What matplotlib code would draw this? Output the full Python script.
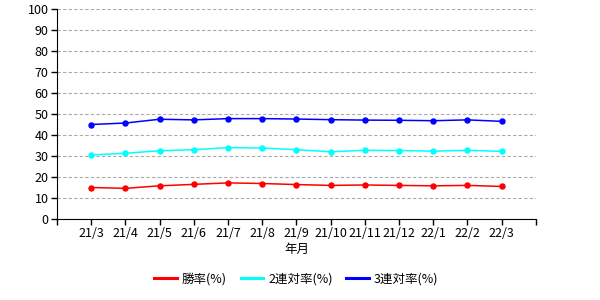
import matplotlib
matplotlib.use('Agg')
import matplotlib.pyplot as plt

plt.rcParams['font.family'] = ['Noto Sans CJK JP', 'DejaVu Sans']

# 年月
months = ['21/3', '21/4', '21/5', '21/6', '21/7', '21/8', '21/9',
          '21/10', '21/11', '21/12', '22/1', '22/2', '22/3']

# 成績 (%)
win_rate = [15.0, 14.6, 15.8, 16.5, 17.2, 16.9, 16.4, 16.0, 16.2, 16.0, 15.8, 16.0, 15.5]
rentai = [30.5, 31.3, 32.5, 33.0, 34.0, 33.8, 33.0, 32.0, 32.7, 32.6, 32.3, 32.7, 32.2]
fukusho = [45.0, 45.7, 47.5, 47.2, 47.8, 47.8, 47.6, 47.3, 47.1, 47.0, 46.8, 47.2, 46.5]

series = [
    ('勝率(%)', win_rate, '#ff0000'),
    ('2連対率(%)', rentai, '#00ffff'),
    ('3連対率(%)', fukusho, '#0000ff'),
]

fig = plt.figure(figsize=(6, 3), dpi=100)
ax = fig.add_axes([0.095, 0.27, 0.798, 0.70])

x = list(range(len(months)))
for name, vals, col in series:
    ax.plot(x, vals, color=col, marker='o', markersize=3.6, linewidth=1.1, label=name)

ax.set_xlim(-1, len(months))
ax.set_ylim(0, 100)
ax.set_yticks(range(0, 101, 10))
ax.set_xticks(range(-1, len(months) + 1))
ax.set_xticklabels([''] + months + [''])
ax.tick_params(labelsize=9, length=4, width=1, pad=2)
ax.yaxis.grid(True, linestyle=(0, (3, 2)), color='#aaaaaa', linewidth=0.8)
ax.set_axisbelow(True)
for s in ['top', 'right']:
    ax.spines[s].set_visible(False)
ax.set_xlabel('年月', fontsize=9, labelpad=2)

leg = ax.legend(loc='upper center', bbox_to_anchor=(0.5, -0.2), ncol=3, frameon=False,
                fontsize=9, handlelength=1.8, handletextpad=0.4, columnspacing=1.1,
                markerscale=0.3)
for ln in leg.get_lines():
    ln.set_linewidth(2.2)

fig.savefig('out.png', dpi=100)
